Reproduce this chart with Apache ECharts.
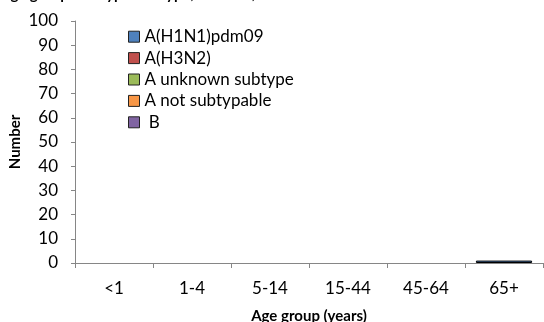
<!DOCTYPE html>
<html>
<head>
<meta charset="utf-8">
<script src="https://cdn.jsdelivr.net/npm/echarts@6/dist/echarts.min.js"></script>
<style>
html,body{margin:0;padding:0;background:#fff;}
#chart{width:544px;height:322px;}
</style>
</head>
<body>
<div id="chart"></div>
<script>
var titleText = 'Age group and type/subtype, EU/EEA, week 40/2015 onwards';
var categories = ['<1', '1-4', '5-14', '15-44', '45-64', '65+'];
var seriesNames = ['A(H1N1)pdm09', 'A(H3N2)', 'A unknown subtype', 'A not subtypable', 'B'];
var seriesColors = ['#4F81BD', '#C0504D', '#9BBB59', '#F79646', '#8064A2'];
var h1n1 = [0, 0, 0, 0, 0, 1];
var h3n2 = [0, 0, 0, 0, 0, 0];
var aUnknown = [0, 0, 0, 0, 0, 0];
var aNotSubtypable = [0, 0, 0, 0, 0, 0];
var bValues = [0, 0, 0, 0, 0, 0];
var yTicks = [0, 10, 20, 30, 40, 50, 60, 70, 80, 90, 100];

var seriesData = [h1n1, h3n2, aUnknown, aNotSubtypable, bValues];
var FONT = 'Lato';
var chart = echarts.init(document.getElementById('chart'), null, {renderer: 'canvas'});
chart.setOption({
  animation: false,
  backgroundColor: '#ffffff',
  title: {
    text: titleText,
    left: 0,
    top: -13,
    padding: 0,
    textStyle: {fontFamily: FONT, fontSize: 15, fontWeight: 'bold', color: '#000'}
  },
  legend: {
    orient: 'vertical',
    left: 128,
    top: 26,
    padding: 0,
    itemGap: 0,
    itemWidth: 11,
    itemHeight: 11,
    icon: 'rect',
    itemStyle: {borderColor: '#222', borderWidth: 1},
    formatter: function (n) { return n === 'B' ? ' B' : n; },
    textStyle: {fontFamily: FONT, fontSize: 17, color: '#000', lineHeight: 21.4},
    data: seriesNames
  },
  grid: {left: 75, right: 1, top: 21, bottom: 59, containLabel: false, outerBoundsMode: 'none'},
  xAxis: {
    type: 'category',
    data: categories,
    boundaryGap: true,
    name: 'Age group (years)',
    nameLocation: 'middle',
    nameMoveOverlap: false,
    nameGap: 46,
    nameTextStyle: {fontFamily: FONT, fontSize: 15, fontWeight: 'bold', color: '#000'},
    axisLine: {show: true, lineStyle: {color: '#868686', width: 1}},
    axisTick: {show: true, interval: 0, length: 5, alignWithLabel: false, lineStyle: {color: '#868686'}},
    axisLabel: {interval: 0, margin: 17, fontFamily: FONT, fontSize: 17, color: '#000'},
    splitLine: {show: false}
  },
  yAxis: {
    type: 'value',
    min: yTicks[0],
    max: yTicks[yTicks.length - 1],
    interval: 10,
    name: 'Number',
    nameLocation: 'middle',
    nameMoveOverlap: false,
    nameGap: 52,
    nameTextStyle: {fontFamily: FONT, fontSize: 15, fontWeight: 'bold', color: '#000'},
    axisLine: {show: true, lineStyle: {color: '#868686', width: 1}},
    axisTick: {show: true, length: 4, lineStyle: {color: '#868686'}},
    axisLabel: {margin: 17, fontFamily: FONT, fontSize: 17, color: '#000'},
    splitLine: {show: false}
  },
  series: seriesNames.map(function (name, i) {
    return {
      name: name,
      type: 'bar',
      stack: 'total',
      barCategoryGap: '28%',
      data: seriesData[i].map(function (v) {
        return v === 0 ? {value: v, itemStyle: {borderWidth: 0}} : v;
      }),
      itemStyle: {color: seriesColors[i], borderColor: '#000', borderWidth: 1}
    };
  })
});
</script>
</body>
</html>
